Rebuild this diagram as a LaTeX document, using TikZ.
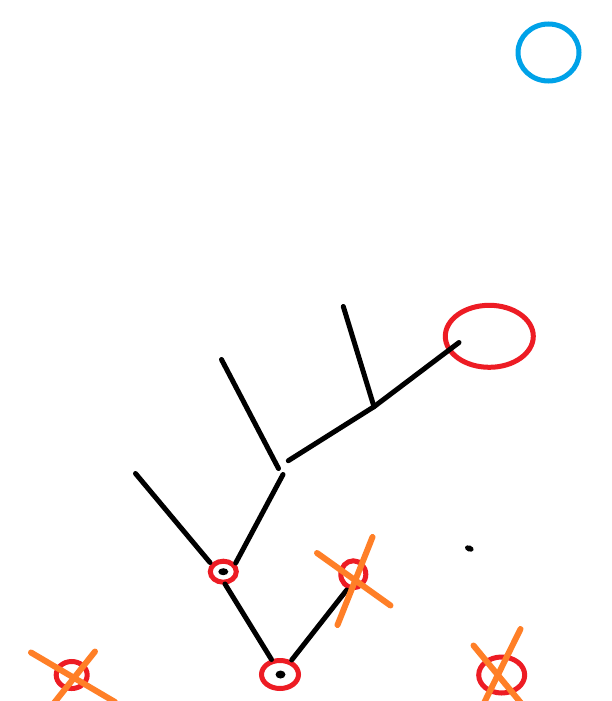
\documentclass[tikz,border=0pt]{standalone}
\usetikzlibrary{shapes.geometric}
\definecolor{inkred}{RGB}{237,28,36}
\definecolor{inkorange}{RGB}{255,127,39}
\definecolor{inkblue}{RGB}{0,162,232}
\tikzset{
  branch/.style={draw=black,line width=5pt,line cap=round},
  ring/.style={ellipse,draw=inkred,line width=5pt,inner sep=0pt,outer sep=0pt},
  bluering/.style={ellipse,draw=inkblue,line width=5pt,inner sep=0pt,outer sep=0pt},
  cross/.style={draw=inkorange,line width=6pt,line cap=round},
  blob/.style={ellipse,fill=black,inner sep=0pt,minimum width=10pt,minimum height=7pt}
}
\begin{document}
\begin{tikzpicture}[x=1pt,y=-1pt]
\useasboundingbox[fill=white] (0,0) rectangle (612,701);
% circles
\node[bluering,minimum width=61pt,minimum height=57pt] (blue) at (548.5,52.5) {};
\node[ring,minimum width=88pt,minimum height=62pt] (big) at (489.3,336.3) {};
\node[ring,minimum width=26pt,minimum height=21pt] (r1) at (223.3,571.7) {};
\node[ring,minimum width=37pt,minimum height=28pt] (r2) at (280,674.5) {};
\node[ring,minimum width=25pt,minimum height=27pt] (r3) at (353.3,574.3) {};
\node[ring,minimum width=31pt,minimum height=27pt] (r4) at (71.7,675) {};
\node[ring,minimum width=46pt,minimum height=36pt] (r5) at (501.7,675) {};
% dots
\node[blob] (d1) at (223.3,571.7) {};
\node[blob,minimum height=8pt] (d2) at (280.5,674.5) {};
\node[blob,minimum width=9pt,minimum height=6pt,rotate=-20] (d3) at (469.3,548.5) {};
% branch coordinates
\coordinate (a1) at (459,342.5);
\coordinate (a2) at (374,406.7);
\coordinate (a3) at (343.3,306.5);
\coordinate (a4) at (288.3,460.7);
\coordinate (b1) at (221.5,359.5);
\coordinate (b2) at (278.5,468.5);
\coordinate (c1) at (283,474.5);
\coordinate (c2) at (235.7,563);
\coordinate (e1) at (135.5,473.5);
\coordinate (e2) at (210,562.5);
\coordinate (f1) at (225,584);
\coordinate (f2) at (271.5,659.5);
\coordinate (g1) at (291.7,660);
\coordinate (g2) at (346.7,590);
% branches
\draw[branch] (a1) -- (a2) -- (a4);
\draw[branch] (a2) -- (a3);
\draw[branch] (b1) -- (b2);
\draw[branch] (c1) -- (c2);
\draw[branch] (e1) -- (e2);
\draw[branch] (f1) -- (f2);
\draw[branch] (g1) -- (g2);
% crosses
\coordinate (x1a) at (317,553);
\coordinate (x1b) at (390.5,605.5);
\coordinate (x1c) at (372.5,537);
\coordinate (x1d) at (337.5,625);
\draw[cross] (x1a) -- (x1b);
\draw[cross] (x1c) -- (x1d);
\coordinate (x2a) at (31,652.5);
\coordinate (x2b) at (115,702);
\coordinate (x2c) at (95,651.5);
\coordinate (x2d) at (54,703);
\draw[cross] (x2a) -- (x2b);
\draw[cross] (x2c) -- (x2d);
\coordinate (x3a) at (473.5,645.5);
\coordinate (x3b) at (521,703);
\coordinate (x3c) at (520.5,629);
\coordinate (x3d) at (484,703);
\draw[cross] (x3a) -- (x3b);
\draw[cross] (x3c) -- (x3d);
\end{tikzpicture}
\end{document}
